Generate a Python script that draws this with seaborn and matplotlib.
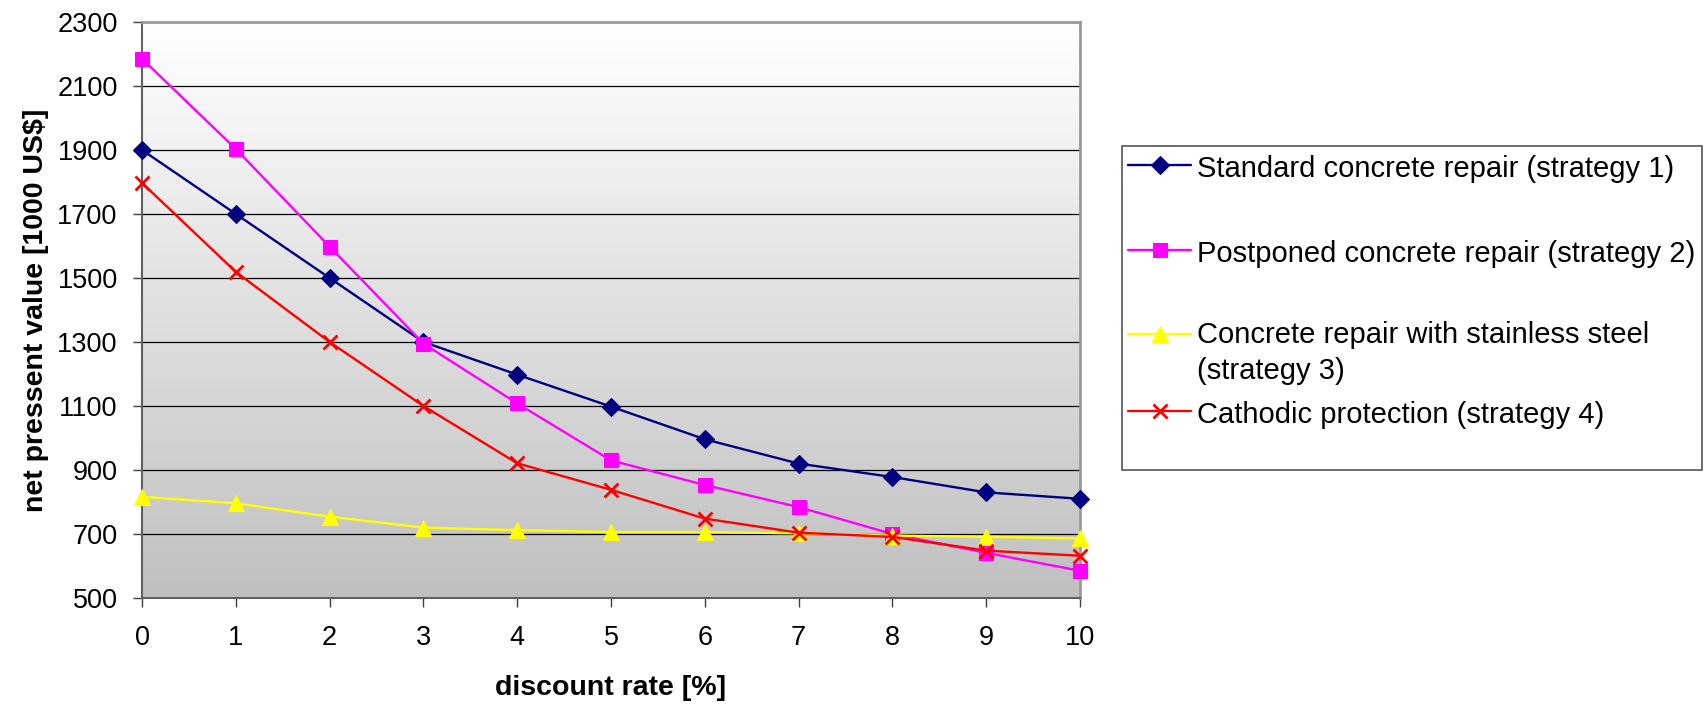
import numpy as np
import pandas as pd
import matplotlib
matplotlib.use("Agg")
import matplotlib.pyplot as plt
import seaborn as sns
from matplotlib.colors import LinearSegmentedColormap
from matplotlib.offsetbox import DrawingArea

# values
rate = [0, 1, 2, 3, 4, 5, 6, 7, 8, 9, 10]
standard = [1900, 1700, 1500, 1300, 1198, 1098, 996, 920, 878, 830, 810]
postponed = [2185, 1903, 1598, 1295, 1108, 930, 853, 784, 700, 641, 585]
stainless = [816, 796, 754, 720, 712, 706, 706, 702, 695, 691, 686]
cathodic = [1797, 1519, 1300, 1100, 921, 838, 748, 704, 691, 648, 632]

labels = [
    "Standard concrete repair (strategy 1)",
    "Postponed concrete repair (strategy 2)",
    "Concrete repair with stainless steel\n(strategy 3)",
    "Cathodic protection (strategy 4)",
]
colors = ["#000080", "#FF00FF", "#FFFF00", "#FF0000"]
markers = ["D", "s", "^", "x"]
msizes = [9, 9.5, 11, 10.5]

df = pd.DataFrame({
    "rate": rate,
    "s1": standard,
    "s2": postponed,
    "s3": stainless,
    "s4": cathodic,
})

sns.set_theme(style="white")
plt.rcParams["font.family"] = ["Liberation Sans", "DejaVu Sans"]
plt.rcParams["text.color"] = "black"
plt.rcParams["axes.labelcolor"] = "black"

fig = plt.figure(figsize=(17.07, 7.07), dpi=100)
ax = fig.add_axes([0.0832, 0.1542, 0.5495, 0.8147])

# grey gradient plot background
grad = np.linspace(0, 1, 256).reshape(-1, 1)
cmap = LinearSegmentedColormap.from_list("bg", ["#ffffff", "#c0c0c0"])
ax.imshow(grad, extent=[0, 1, 0, 1], transform=ax.transAxes, cmap=cmap,
          aspect="auto", origin="upper", zorder=0)

for col, lab, c, m, ms in zip(["s1", "s2", "s3", "s4"], labels, colors, markers, msizes):
    sns.lineplot(data=df, x="rate", y=col, ax=ax, color=c, marker=m,
                 markersize=ms, markeredgecolor=c,
                 markeredgewidth=2 if m == "x" else 0.8,
                 linewidth=1.7, label=lab, clip_on=False, zorder=3)

ax.set_xlim(0, 10)
ax.set_ylim(500, 2300)
ax.set_xticks(rate)
ax.set_yticks(np.arange(500, 2301, 200))

ax.set_axisbelow(True)
ax.yaxis.grid(True, color="black", linewidth=0.9)
ax.xaxis.grid(False)

for s in ["left", "bottom"]:
    ax.spines[s].set_color("#606060")
    ax.spines[s].set_linewidth(1.5)
for s in ["top", "right"]:
    ax.spines[s].set_color("#9a9a9a")
    ax.spines[s].set_linewidth(2)

ax.tick_params(axis="both", direction="out", length=6.5, width=1,
               color="#404040", labelsize=19.5, labelcolor="black",
               bottom=True, left=True)
ax.tick_params(axis="x", pad=13)
ax.tick_params(axis="y", pad=11)

ax.set_xlabel("discount rate [%]", fontsize=20.5, fontweight="bold", labelpad=17)
ax.set_ylabel("net pressent value [1000 US$]", fontsize=20.5, fontweight="bold", labelpad=6)

handles, labs = ax.get_legend_handles_labels()
leg = ax.legend(handles, labs, loc="upper left",
                bbox_to_anchor=(1122 / 1707, 1 - 146 / 707),
                bbox_transform=fig.transFigure, borderaxespad=0,
                frameon=True, fancybox=False, framealpha=1,
                edgecolor="#555555", fontsize=21, handlelength=2.15,
                handletextpad=0.21, borderpad=0.22, labelspacing=0.45,
                handleheight=1.2, labelcolor="black")
leg.get_frame().set_linewidth(1.2)
leg.get_texts()[2].set_linespacing(1.36)

# Excel style spacing: wider gaps at the top, handle on first line of entry 3
column = leg._legend_handle_box.get_children()[0]
items = list(column.get_children())
items[2].align = "top"
column._children = [items[0], DrawingArea(1, 20), items[1], DrawingArea(1, 19.5),
                    items[2], items[3], DrawingArea(1, 15.5)]

fig.savefig("out.png", dpi=100)
